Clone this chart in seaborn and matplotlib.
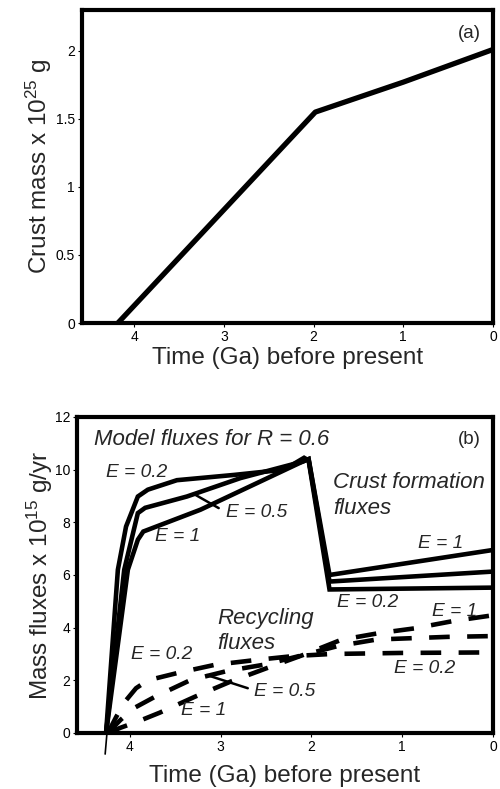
import numpy as np
import pandas as pd
import matplotlib
matplotlib.use("Agg")
import matplotlib.pyplot as plt
import seaborn as sns

# ---------------- data ----------------
# (a) crust mass (x 10^25 g) vs time (Ga before present)
mass_t = [4.18, 1.98, 1.0, 0.0]
mass_v = [0.0, 1.55, 1.77, 2.01]

# (b) crust formation fluxes (solid), x 10^15 g/yr
form_t_02 = [4.26, 4.13, 4.04, 3.91, 3.80, 3.48, 2.85, 2.30, 2.08, 2.03, 1.80, 0.0]
form_v_02 = [0.0, 6.2, 7.84, 8.98, 9.24, 9.6, 9.8, 10.0, 10.45, 10.35, 5.45, 5.52]
form_t_05 = [4.26, 4.06, 3.91, 3.83, 3.37, 2.78, 2.10, 2.03, 1.80, 0.0]
form_v_05 = [0.0, 6.2, 8.35, 8.55, 8.98, 9.68, 10.3, 10.4, 5.75, 6.13]
form_t_1 = [4.26, 4.02, 3.91, 3.85, 3.22, 2.10, 2.03, 1.80, 0.0]
form_v_1 = [0.0, 6.2, 7.34, 7.65, 8.48, 10.3, 10.4, 6.0, 6.95]
tail_t = [4.25, 4.27]
tail_v = [0.0, -0.8]

# (b) recycling fluxes (dashed)
rec_t_02 = [4.24, 4.15, 4.05, 3.93, 3.80, 3.46, 3.06, 2.59, 2.20, 1.78, 1.0, 0.0]
rec_v_02 = [0.0, 0.6, 1.2, 1.7, 2.0, 2.29, 2.59, 2.78, 2.92, 3.0, 3.04, 3.06]
rec_t_05 = [4.24, 4.10, 3.95, 3.73, 3.33, 2.92, 2.51, 2.10, 1.71, 1.28, 0.5, 0.0]
rec_v_05 = [0.0, 0.5, 0.95, 1.36, 2.01, 2.36, 2.6, 2.95, 3.3, 3.55, 3.65, 3.68]
rec_t_1 = [4.24, 4.10, 3.90, 3.67, 3.28, 2.89, 2.50, 2.10, 1.67, 1.26, 0.87, 0.44, 0.0]
rec_v_1 = [0.0, 0.2, 0.45, 0.77, 1.38, 1.95, 2.45, 2.95, 3.54, 3.79, 3.97, 4.25, 4.47]

# leader lines for E = 0.5 labels
lead_solid_t = [3.28, 3.02]
lead_solid_v = [9.05, 8.54]
lead_dash_t = [3.15, 2.70]
lead_dash_v = [2.2, 1.7]

xticks = [4, 3, 2, 1, 0]
yticks_a = [0, 0.5, 1, 1.5, 2]
ytick_labels_a = ["0", "0.5", "1", "1.5", "2"]
yticks_b = [0, 2, 4, 6, 8, 10, 12]

# ---------------- style ----------------
sns.set_style("ticks")
plt.rcParams["font.family"] = ["Liberation Sans", "DejaVu Sans"]
plt.rcParams["mathtext.fontset"] = "custom"
plt.rcParams["mathtext.rm"] = "Liberation Sans"
plt.rcParams["mathtext.it"] = "Liberation Sans:italic"

fig = plt.figure(figsize=(5.0, 7.89), dpi=100)
ax_a = fig.add_axes([0.164, 0.5906, 0.822, 0.3967])
ax_b = fig.add_axes([0.154, 0.0710, 0.832, 0.4005])

def style_axes(ax):
    for s in ax.spines.values():
        s.set_linewidth(3.0)
        s.set_color("black")
        s.set_visible(True)
    ax.tick_params(axis="both", direction="out", length=3, width=0.8,
                   labelsize=10, colors="black", pad=2)
    ax.set_xlim(4.58, 0)
    ax.set_xticks(xticks)
    ax.set_xticklabels([str(t) for t in xticks])
    ax.set_facecolor("white")

# ---- panel (a)
dfa = pd.DataFrame({"t": mass_t, "m": mass_v})
sns.lineplot(data=dfa, x="t", y="m", ax=ax_a, color="black", lw=3.8,
             sort=False, estimator=None)
style_axes(ax_a)
ax_a.set_ylim(0, 2.3)
ax_a.set_yticks(yticks_a)
ax_a.set_yticklabels(ytick_labels_a)
ax_a.set_xlabel("Time (Ga) before present", fontsize=17.5, labelpad=2)
ax_a.set_ylabel(r"Crust mass x 10$^{\mathregular{25}}$ g", fontsize=17.5, labelpad=1)
ax_a.text(0.13, 2.13, "(a)", fontsize=13.5, ha="right", va="center")

# ---- panel (b)
for t, v in [(form_t_02, form_v_02), (form_t_05, form_v_05), (form_t_1, form_v_1)]:
    sns.lineplot(x=t, y=v, ax=ax_b, color="black", lw=3.3, sort=False,
                 estimator=None, solid_joinstyle="miter")
sns.lineplot(x=tail_t, y=tail_v, ax=ax_b, color="black", lw=1.2, sort=False,
             estimator=None, clip_on=False)
for t, v in [(rec_t_02, rec_v_02), (rec_t_05, rec_v_05), (rec_t_1, rec_v_1)]:
    sns.lineplot(x=t, y=v, ax=ax_b, color="black", lw=3.3, sort=False,
                 estimator=None, linestyle=(0, (4.5, 3.8)), dash_capstyle="butt")
sns.lineplot(x=lead_solid_t, y=lead_solid_v, ax=ax_b, color="black", lw=1.8,
             sort=False, estimator=None)
sns.lineplot(x=lead_dash_t, y=lead_dash_v, ax=ax_b, color="black", lw=1.8,
             sort=False, estimator=None)

style_axes(ax_b)
ax_b.set_ylim(0, 12)
ax_b.set_yticks(yticks_b)
ax_b.set_yticklabels([str(t) for t in yticks_b])
ax_b.set_xlabel("Time (Ga) before present", fontsize=17.5, labelpad=8)
ax_b.set_ylabel(r"Mass fluxes x 10$^{\mathregular{15}}$ g/yr", fontsize=17.5, labelpad=0)

it = dict(fontsize=13.8, style="italic", va="center")
big = dict(fontsize=16, style="italic", va="center")
ax_b.text(4.39, 11.14, "Model fluxes for R = 0.6", ha="left", **big)
ax_b.text(0.13, 11.14, "(b)", fontsize=13.5, ha="right", va="center")
ax_b.text(4.26, 9.9, "E = 0.2", ha="left", **it)
ax_b.text(2.94, 8.38, "E = 0.5", ha="left", **it)
ax_b.text(3.72, 7.46, "E = 1", ha="left", **it)
ax_b.text(1.76, 9.52, "Crust formation", ha="left", **big)
ax_b.text(1.76, 8.54, "fluxes", ha="left", **big)
ax_b.text(0.83, 7.21, "E = 1", ha="left", **it)
ax_b.text(1.72, 4.95, "E = 0.2", ha="left", **it)
ax_b.text(0.67, 4.61, "E = 1", ha="left", **it)
ax_b.text(3.04, 4.36, "Recycling", ha="left", **big)
ax_b.text(3.04, 3.41, "fluxes", ha="left", **big)
ax_b.text(3.98, 2.97, "E = 0.2", ha="left", **it)
ax_b.text(2.63, 1.57, "E = 0.5", ha="left", **it)
ax_b.text(3.44, 0.87, "E = 1", ha="left", **it)
ax_b.text(1.09, 2.46, "E = 0.2", ha="left", **it)

fig.savefig("out.png", dpi=100)
